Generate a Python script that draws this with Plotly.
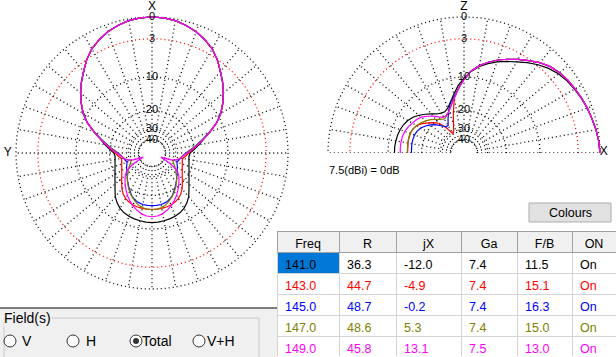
import numpy as np
import plotly.graph_objects as go

W, H = 616, 357
FONT = "Liberation Sans, Arial, sans-serif"

# ---------------- data ----------------
freqs = ["141.0", "143.0", "145.0", "147.0", "149.0"]
r_vals = ["36.3", "44.7", "48.7", "48.6", "45.8"]
jx_vals = ["-12.0", "-4.9", "-0.2", "5.3", "13.1"]
ga_vals = ["7.4", "7.4", "7.4", "7.4", "7.5"]
fb_vals = ["11.5", "15.1", "16.3", "15.0", "13.0"]
on_vals = ["On", "On", "On", "On", "On"]
table_headers = ["Freq", "R", "jX", "Ga", "F/B", "ON"]
series_colors = ["#000000", "#FF0000", "#0000FF", "#808000", "#FF00FF"]

# dB rings and their labels
ring_db = [0, 3, 10, 20, 30, 40]
ring_labels = ["0", "3", "10", "20", "30", "40"]

# azimuth pattern (dB below max), angles 0..180 step 5, mirrored for 180..360
az_angles = list(range(0, 181, 5))
az_main = [0, 0.05, 0.2, 0.5, 0.9, 1.45, 2.1, 3.05, 4.2, 5.3, 6.5, 7.8, 9.2, 11.1, 13.6]
az_141 = az_main + [16.0, 17.9, 20.0, 21.8, 22.3, 22.1, 21.75, 21.3, 20.65, 19.9, 18.9,
                    17.8, 16.4, 14.9, 13.8, 12.95, 12.4, 12.05, 11.85, 11.7, 11.55, 11.5]
az_143 = az_main + [16.2, 18.6, 20.8, 22.5, 23.8, 25.3, 25.2, 24.7, 24.1, 23.3, 22.4,
                    21.2, 19.8, 18.3, 17.1, 16.3, 15.8, 15.45, 15.25, 15.15, 15.1, 15.1]
az_145 = az_main + [16.4, 19.0, 21.5, 23.8, 25.5, 26.5, 27.2, 28.0, 27.3, 26.3, 25.6,
                    24.5, 23.3, 22.0, 20.7, 19.4, 18.0, 17.2, 16.7, 16.4, 16.3, 16.3]
az_147 = az_main + [16.3, 18.9, 21.3, 23.5, 25.3, 26.8, 28.5, 31.0, 30.0, 28.3, 26.5,
                    25.3, 23.2, 21.8, 20.4, 19.1, 17.9, 16.9, 16.0, 15.4, 15.1, 15.0]
az_149 = az_main + [16.0, 18.5, 20.8, 23.0, 25.2, 26.5, 28.0, 33.0, 45.0, 32.0, 25.5,
                    23.3, 21.8, 20.3, 18.9, 17.5, 16.3, 15.2, 14.3, 13.6, 13.15, 13.0]

# elevation pattern (dB below max), elevation 0..180 step 5
el_angles = list(range(0, 181, 5))
el_main = [0, 0.1, 0.25, 0.45, 0.6, 0.8, 1.0, 1.2, 1.45, 1.85, 2.45, 3.2, 3.95, 4.7,
           5.45, 6.35, 7.3, 8.6]
el_141 = [0, 0.1, 0.25, 0.45, 0.65, 0.85, 1.1, 1.35, 1.7, 2.2, 2.85, 3.6, 4.4, 5.1, 5.8,
          6.6, 7.5, 8.7] + [10.2, 12.0, 14.2, 16.3, 18.0, 18.8, 18.6, 18.0, 16.8, 15.6,
                            14.4, 13.4, 12.7, 12.2, 11.9, 11.7, 11.6, 11.5, 11.5]
el_143 = el_main + [10.5, 12.8, 15.3, 20.5, 25.5, 29.5, 31.0, 25.5, 21.5, 19.8, 18.3,
                    16.8, 15.6, 15.1, 14.9, 14.9, 15.0, 15.1, 15.1]
el_145 = el_main + [10.5, 12.8, 14.8, 16.5, 19.0, 22.0, 25.0, 24.8, 23.0, 21.0, 19.5,
                    18.2, 17.2, 16.6, 16.3, 16.2, 16.2, 16.3, 16.3]
el_147 = el_main + [10.5, 12.8, 15.1, 17.2, 19.2, 20.6, 21.3, 20.6, 19.4, 18.2, 17.2,
                    16.3, 15.6, 15.1, 14.8, 14.8, 14.9, 15.0, 15.0]
el_149 = el_main + [10.5, 12.8, 15.3, 17.5, 19.3, 20.3, 20.5, 19.3, 17.8, 16.5, 15.3,
                    14.6, 14.1, 13.6, 13.2, 13.0, 12.95, 12.95, 13.0]

az_series = [az_141, az_143, az_145, az_147, az_149]
el_series = [el_141, el_143, el_145, el_147, el_149]


def arrl(db):
    """ARRL log radial scale: 0 dB -> 1."""
    return 0.89 ** (np.asarray(db, dtype=float) / 2.0)


def px(x):
    return x / W


def py(y):
    return 1 - y / H


RMAX = 1.08            # radial range a little beyond 0 dB, room for axis letters
R0 = 136.0             # pixel radius of the 0 dB ring
RP = R0 * RMAX         # pixel radius of the full radial range

fig = go.Figure()
DOT = "1px,3px"

# ---------------- grids ----------------
def add_grid(sub, th_max, spoke_max):
    th = np.arange(0, th_max + 1, 1)
    for d in ring_db:
        fig.add_trace(go.Scatterpolar(
            subplot=sub, theta=th, r=np.full(th.shape, float(arrl(d))), mode="lines",
            line=dict(color="#FF0000" if d == 3 else "#000000", width=1.3, dash=DOT),
            hoverinfo="skip"))
    st, sr = [], []
    for a in range(0, spoke_max + 1, 10):
        st += [a, a, None]
        sr += [float(arrl(40)), 1.0, None]
    fig.add_trace(go.Scatterpolar(subplot=sub, theta=st, r=sr, mode="lines",
                                  line=dict(color="#000000", width=1.3, dash=DOT),
                                  hoverinfo="skip"))


add_grid("polar", 360, 350)
add_grid("polar2", 180, 180)

# ---------------- patterns ----------------
for vals, col in zip(az_series, series_colors):
    th = az_angles + [360 - a for a in az_angles[::-1]]
    dbs = vals + vals[::-1]
    fig.add_trace(go.Scatterpolar(subplot="polar", theta=th, r=arrl(dbs), mode="lines",
                                  line=dict(color=col, width=1.2)))
for vals, col in zip(el_series, series_colors):
    fig.add_trace(go.Scatterpolar(subplot="polar2", theta=el_angles, r=arrl(vals),
                                  mode="lines", line=dict(color=col, width=1.2)))

# ---------------- ring labels & axis names ----------------
lab_font = dict(family=FONT, size=11, color="#000000")
fig.add_trace(go.Scatterpolar(subplot="polar", theta=[0] * 6, r=arrl(ring_db),
                              text=ring_labels, mode="text", textfont=lab_font,
                              cliponaxis=False))
fig.add_trace(go.Scatterpolar(subplot="polar2", theta=[90] * 6, r=arrl(ring_db),
                              text=ring_labels, mode="text", textfont=lab_font,
                              cliponaxis=False))
fig.add_trace(go.Scatterpolar(subplot="polar", theta=[0, 90], r=[1.07, 1.06],
                              text=["X", "Y"], mode="text",
                              textfont=dict(family=FONT, size=12, color="#000"),
                              cliponaxis=False))
fig.add_trace(go.Scatterpolar(subplot="polar2", theta=[90, 0.2], r=[1.07, 1.027],
                              text=["Z", "X"], mode="text",
                              textfont=dict(family=FONT, size=12, color="#000"),
                              cliponaxis=False))

# ---------------- table ----------------
fills = [["#0078D7", "white", "white", "white", "white"]] + [["white"] * 5] * 5
fig.add_trace(go.Table(
    domain=dict(x=[px(277), 1], y=[0, py(231)]),
    columnwidth=[62, 57, 65, 56, 55, 44],
    header=dict(values=table_headers, fill_color="#F0F0F0", line_color="#A0A0A0",
                align="center", height=21,
                font=dict(family=FONT, size=12.5, color="#000")),
    cells=dict(values=[freqs, r_vals, jx_vals, ga_vals, fb_vals, on_vals],
               fill_color=fills, line_color="#D4D4D4", align="left", height=21,
               font=dict(family=FONT, size=12.5, color=[series_colors] * 6)),
))

hidden_ang = dict(showgrid=False, showline=False, showticklabels=False, ticks="")
hidden_rad = dict(range=[0, RMAX], showgrid=False, showline=False,
                  showticklabels=False, ticks="")
LCX, LCY = 152, 153
RCX, RCY = 464, 153
fig.update_layout(
    width=W, height=H, margin=dict(l=0, r=0, t=0, b=0),
    paper_bgcolor="white", plot_bgcolor="white", showlegend=False,
    polar=dict(domain=dict(x=[px(LCX - RP), px(LCX + RP)],
                           y=[py(LCY + RP), py(LCY - RP)]),
               bgcolor="rgba(0,0,0,0)",
               angularaxis=dict(rotation=90, direction="counterclockwise", **hidden_ang),
               radialaxis=hidden_rad),
    polar2=dict(domain=dict(x=[px(RCX - RP), px(RCX + RP)],
                            y=[py(RCY), py(RCY - RP)]),
                sector=[0, 180], bgcolor="rgba(0,0,0,0)",
                angularaxis=dict(rotation=0, direction="counterclockwise", **hidden_ang),
                radialaxis=hidden_rad),
)

shapes = [
    dict(type="rect", x0=px(0), x1=px(277), y0=py(357), y1=py(308.5), xref="paper",
         yref="paper", fillcolor="#F0F0F0", line=dict(width=0), layer="below"),
    dict(type="line", x0=px(0), x1=px(277), y0=py(308), y1=py(308), xref="paper",
         yref="paper", line=dict(color="#000", width=1)),
    dict(type="rect", x0=px(4), x1=px(259), y0=py(360), y1=py(318), xref="paper",
         yref="paper", line=dict(color="#C8C8C8", width=1)),
    dict(type="rect", x0=px(529), x1=px(611), y0=py(222), y1=py(203), xref="paper",
         yref="paper", fillcolor="#E1E1E1", line=dict(color="#ADADAD", width=1)),
]
for cx in [10, 73, 136, 199]:
    shapes.append(dict(type="circle", x0=px(cx - 6), x1=px(cx + 6), y0=py(347),
                       y1=py(335), xref="paper", yref="paper", fillcolor="white",
                       line=dict(color="#333333", width=1)))
shapes.append(dict(type="circle", x0=px(133), x1=px(139), y0=py(344), y1=py(338),
                   xref="paper", yref="paper", fillcolor="#333333",
                   line=dict(color="#333333", width=0)))

ui_font = dict(family=FONT, size=14, color="#000")
annotations = [
    dict(text="7.5(dBi) = 0dB", x=px(327), y=py(170), xanchor="left", yanchor="middle",
         font=dict(family=FONT, size=11, color="#000")),
    dict(text="Colours", x=px(570), y=py(212.5), xanchor="center", yanchor="middle",
         font=dict(family=FONT, size=12.5, color="#000")),
    dict(text="Field(s)", x=px(3), y=py(318), xanchor="left", yanchor="middle",
         font=ui_font, bgcolor="#F0F0F0", borderpad=0),
]
for lx, t in [(20, "V"), (84, "H"), (140, "Total"), (205, "V+H")]:
    annotations.append(dict(text=t, x=px(lx), y=py(341), xanchor="left",
                            yanchor="middle", font=ui_font))
for a in annotations:
    a.update(xref="paper", yref="paper", showarrow=False)

fig.update_layout(shapes=shapes, annotations=annotations)
fig.write_html("out.html",
               config={"displayModeBar": False},
               post_script="document.body.style.margin='0px';"
                           "document.body.style.overflow='hidden';")
